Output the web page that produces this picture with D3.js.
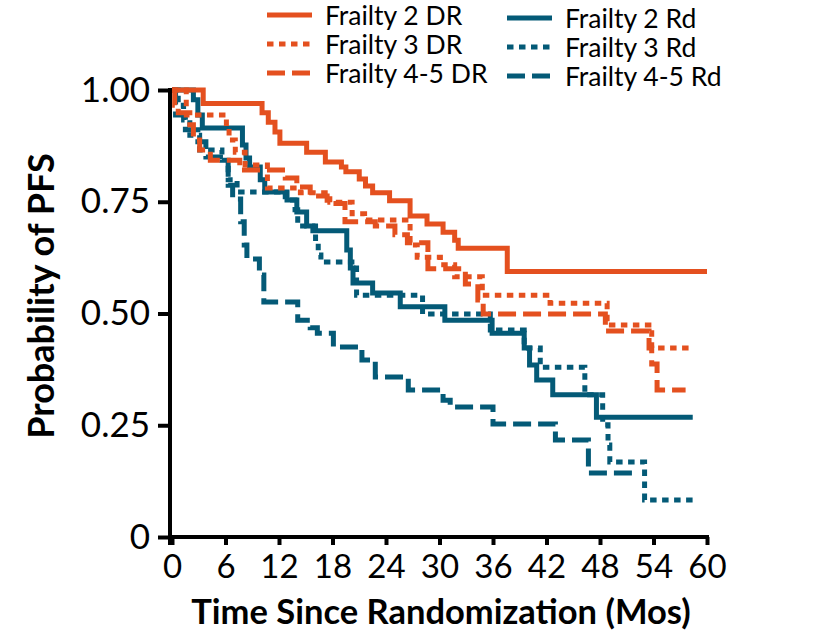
<!DOCTYPE html>
<html>
<head>
<meta charset="utf-8">
<script src="https://cdn.jsdelivr.net/npm/d3@7"></script>
<style>
  body { margin: 0; background: #fff; }
  svg { font-family: Lato, "Open Sans", sans-serif; }
</style>
</head>
<body>
<svg id="chart" width="822" height="636"></svg>
<script>
// Kaplan-Meier steps: [months, probability]
const f2DR = [[0,1.00],[3.5,0.97],[10.1,0.949],[10.8,0.928],[11.55,0.906],[12.1,0.881],[15.1,0.861],[17.2,0.839],[19.0,0.828],[19.5,0.817],[21.0,0.801],[21.7,0.785],[22.5,0.77],[24.4,0.752],[26.7,0.718],[28.6,0.70],[30.4,0.682],[31.7,0.664],[32.1,0.646],[37.6,0.594],[60,0.594]]
const f3DR = [[0,1.00],[1.6,0.944],[6.1,0.917],[6.4,0.888],[7.1,0.861],[8.2,0.832],[10.7,0.781],[14.4,0.77],[17.7,0.749],[20.2,0.723],[21.6,0.709],[26.7,0.653],[27.5,0.626],[30.1,0.609],[31.7,0.582],[34.8,0.541],[42.4,0.523],[48.8,0.474],[53.8,0.423],[58.1,0.423]]
const f45DR = [[0,1.00],[0.3,0.966],[0.7,0.949],[2.0,0.922],[2.4,0.888],[3.1,0.866],[4.3,0.843],[7.6,0.821],[12.7,0.803],[14.0,0.783],[15.5,0.763],[17.4,0.746],[19.4,0.705],[22.8,0.696],[25.0,0.676],[26.4,0.658],[28.7,0.60],[32.9,0.566],[34.3,0.53],[34.9,0.499],[48.6,0.461],[53.5,0.423],[53.8,0.387],[54.4,0.329],[57.6,0.329]]
const f2Rd = [[0,1.00],[2.4,0.978],[2.9,0.944],[3.4,0.915],[7.9,0.877],[8.3,0.848],[8.7,0.828],[9.9,0.799],[10.4,0.772],[12.9,0.754],[14.0,0.727],[15.1,0.696],[15.8,0.685],[19.6,0.642],[20.0,0.602],[20.3,0.568],[22.5,0.546],[25.6,0.515],[30.6,0.485],[35.9,0.456],[39.5,0.423],[40.1,0.385],[40.9,0.351],[42.7,0.318],[47.6,0.268],[58.4,0.268]]
const f3Rd = [[0,1.00],[0.7,0.966],[1.3,0.933],[2.0,0.899],[3.1,0.866],[5.6,0.843],[6.3,0.799],[7.3,0.772],[12.7,0.754],[13.8,0.732],[14.1,0.696],[16.1,0.658],[16.4,0.631],[16.7,0.615],[20.7,0.541],[28.1,0.499],[35.7,0.463],[39.5,0.423],[41.3,0.38],[46.3,0.318],[48.3,0.251],[48.9,0.206],[49.1,0.168],[53.0,0.083],[58.4,0.083]]
const f45Rd = [[0,1.00],[0.4,0.944],[1.5,0.911],[2.9,0.884],[3.8,0.85],[6.3,0.787],[6.8,0.756],[7.7,0.705],[8.1,0.653],[8.4,0.622],[9.8,0.586],[10.3,0.526],[14.1,0.485],[15.5,0.468],[16.3,0.456],[18.1,0.425],[21.3,0.396],[22.8,0.358],[26.5,0.329],[30.4,0.306],[31.2,0.291],[36.0,0.253],[43.0,0.217],[46.7,0.143],[51.6,0.143]]

const seriesNames = ['Frailty 2 DR','Frailty 3 DR','Frailty 4-5 DR','Frailty 2 Rd','Frailty 3 Rd','Frailty 4-5 Rd']
const seriesData = [f2DR, f3DR, f45DR, f2Rd, f3Rd, f45Rd]
const xTicks = [0,6,12,18,24,30,36,42,48,54,60]
const yTicks = [0,0.25,0.5,0.75,1]

const orange = '#e4501f'
const teal = '#045a77'
const colors = [orange, orange, orange, teal, teal, teal]
const dashes = [null, '6.5,5.5', '18,7', null, '6.5,5.5', '18,7']

const svg = d3.select('#chart')
const x = d3.scaleLinear().domain([0, 60]).range([172, 707])
const y = d3.scaleLinear().domain([0, 1]).range([537, 90])

// curves
const line = d3.line()
  .x(d => x(d[0]))
  .y(d => y(d[1]))
  .curve(d3.curveStepAfter)

// draw Rd first, DR on top
const order = [3, 4, 5, 0, 1, 2]
svg.append('g')
  .selectAll('path')
  .data(order)
  .enter()
  .append('path')
  .attr('d', i => line(seriesData[i]))
  .attr('fill', 'none')
  .attr('stroke', i => colors[i])
  .attr('stroke-width', 5)
  .attr('stroke-dasharray', i => dashes[i])

// axes
const yAxis = svg.append('g')
  .attr('transform', `translate(${x(0) - 2},0)`)
  .call(d3.axisLeft(y).tickValues(yTicks).tickSize(12).tickPadding(8)
    .tickFormat(d => d === 0 ? '0' : d3.format('.2f')(d)))
const xAxis = svg.append('g')
  .attr('transform', `translate(0,${y(0)})`)
  .call(d3.axisBottom(x).tickValues(xTicks).tickSize(8).tickPadding(10))

for (const g of [yAxis, xAxis]) {
  g.select('.domain').remove()
  g.selectAll('line').attr('stroke', '#000').attr('stroke-width', 4)
  g.selectAll('text').attr('font-size', 33).attr('fill', '#000')
    .attr('font-family', 'Lato, sans-serif')
}
yAxis.selectAll('text').attr('font-size', 35)

svg.append('line')
  .attr('x1', x(0) - 2).attr('x2', x(0) - 2)
  .attr('y1', y(1) - 2).attr('y2', y(0) + 8)
  .attr('stroke', '#000').attr('stroke-width', 4)
svg.append('line')
  .attr('x1', x(0) - 4).attr('x2', x(60) + 2)
  .attr('y1', y(0)).attr('y2', y(0))
  .attr('stroke', '#000').attr('stroke-width', 4)

// axis titles
svg.append('text')
  .attr('x', 441).attr('y', 624)
  .attr('text-anchor', 'middle')
  .attr('font-size', 34.5).attr('font-weight', 'bold')
  .text('Time Since Randomization (Mos)')
svg.append('text')
  .attr('transform', 'translate(54,296) rotate(-90)')
  .attr('text-anchor', 'middle')
  .attr('font-size', 36).attr('font-weight', 'bold')
  .text('Probability of PFS')

// legend
const legend = svg.append('g')
  .selectAll('g')
  .data(seriesNames)
  .enter()
  .append('g')
  .attr('transform', (d, i) => i < 3
    ? `translate(267,${15 + i * 29})`
    : `translate(507,${18 + (i - 3) * 29})`)

legend.append('line')
  .attr('x1', 0).attr('x2', 45)
  .attr('stroke', (d, i) => colors[i])
  .attr('stroke-width', 5)
  .attr('stroke-dasharray', (d, i) => dashes[i])
legend.append('text')
  .attr('x', 58)
  .attr('y', 10)
  .attr('font-size', 26.5)
  .text(d => d)
</script>
</body>
</html>
